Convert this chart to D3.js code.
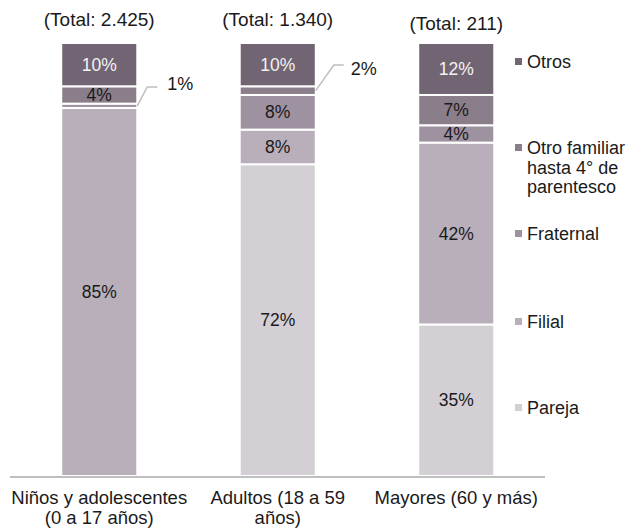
<!DOCTYPE html>
<html>
<head>
<meta charset="utf-8">
<script src="https://cdn.jsdelivr.net/npm/d3@7"></script>
<style>
  body { margin: 0; background: #fff; }
  svg text { font-family: "Liberation Sans", Arial, sans-serif; }
</style>
</head>
<body>
<div id="chart"></div>
<script>
const categories = ["Niños y adolescentes (0 a 17 años)", "Adultos (18 a 59 años)", "Mayores (60 y más)"];
const categoryLines = [["Niños y adolescentes", "(0 a 17 años)"], ["Adultos (18 a 59", "años)"], ["Mayores (60 y más)"]];
const totals = ["(Total: 2.425)", "(Total: 1.340)", "(Total: 211)"];
const seriesNames = ["Pareja", "Filial", "Fraternal", "Otro familiar hasta 4° de parentesco", "Otros"];
const legendLines = [["Pareja"], ["Filial"], ["Fraternal"], ["Otro familiar", "hasta 4° de", "parentesco"], ["Otros"]];
const pareja = [0, 72, 35];
const filial = [85, 8, 42];
const fraternal = [1, 8, 4];
const otroFamiliar = [4, 2, 7];
const otros = [10, 10, 12];
const colors = ["#d4cfd5", "#b8afbb", "#9e91a0", "#8b7e8b", "#726573"];

const width = 635, height = 529;
const svg = d3.select("#chart").append("svg")
    .attr("width", width)
    .attr("height", height);

const rows = categories.map((c, i) => ({
    cat: c,
    Pareja: pareja[i],
    Filial: filial[i],
    Fraternal: fraternal[i],
    "Otro familiar hasta 4° de parentesco": otroFamiliar[i],
    Otros: otros[i]
}));

const stacked = d3.stack().keys(seriesNames)(rows);

const x = d3.scaleBand()
    .domain(categories)
    .range([10, 545.5])
    .paddingInner(0.574)
    .paddingOuter(0.287);

const y = d3.scaleLinear().domain([0, 100]).range([476, 43]);

// bars
const layer = svg.append("g").selectAll("g")
    .data(stacked)
    .enter().append("g")
    .attr("fill", (d, i) => colors[i]);

layer.selectAll("rect")
    .data(d => d.filter(s => s[1] - s[0] > 0))
    .enter().append("rect")
    .attr("x", d => x(d.data.cat))
    .attr("y", d => y(d[1]))
    .attr("width", x.bandwidth())
    .attr("height", d => y(d[0]) - y(d[1]))
    .attr("stroke", "#fff")
    .attr("stroke-width", 2);

// axis line
svg.append("line")
    .attr("x1", 10).attr("x2", 545)
    .attr("y1", 477).attr("y2", 477)
    .attr("stroke", "#bfbfbf")
    .attr("stroke-width", 2);

// labels inside bars (small ones get a leader line)
stacked.forEach((s, si) => {
    s.forEach((d, ci) => {
        const v = d[1] - d[0];
        if (v <= 0) return;
        const cx = x(d.data.cat) + x.bandwidth() / 2;
        const cy = (y(d[0]) + y(d[1])) / 2;
        if (v < 3) {
            const x0 = x(d.data.cat) + x.bandwidth();
            const xa = x0 + (ci === 0 ? 10 : 18);
            const ya = ci === 0 ? 87 : 65;
            svg.append("polyline")
                .attr("points", [[x0, cy], [xa, ya], [xa + 10, ya]].map(p => p.join(",")).join(" "))
                .attr("fill", "none")
                .attr("stroke", "#bfbfbf")
                .attr("stroke-width", 1.5);
            svg.append("text")
                .attr("x", xa + (ci === 0 ? 20 : 17))
                .attr("y", ya + (ci === 0 ? 3 : 10))
                .attr("font-size", 18)
                .attr("fill", "#1a1a1a")
                .text(v + "%");
            return;
        }
        svg.append("text")
            .attr("x", cx)
            .attr("y", cy + 6)
            .attr("text-anchor", "middle")
            .attr("font-size", 17.5)
            .attr("fill", si === 4 ? "#f2f2f2" : "#1a1a1a")
            .text(v + "%");
    });
});

// totals
svg.append("g").selectAll("text")
    .data(categories)
    .enter().append("text")
    .attr("x", d => x(d) + x.bandwidth() / 2)
    .attr("y", (d, i) => i === 2 ? 30 : 26)
    .attr("text-anchor", "middle")
    .attr("font-size", 19)
    .attr("fill", "#1a1a1a")
    .text((d, i) => totals[i]);

// category labels
const catG = svg.append("g").selectAll("text")
    .data(categories)
    .enter().append("text")
    .attr("x", d => x(d) + x.bandwidth() / 2)
    .attr("y", 504)
    .attr("text-anchor", "middle")
    .attr("font-size", 18.5)
    .attr("fill", "#1a1a1a");
catG.each(function(d, i) {
    categoryLines[i].forEach((line, li) => {
        d3.select(this).append("tspan")
            .attr("x", x(d) + x.bandwidth() / 2)
            .attr("dy", li === 0 ? 0 : 20)
            .text(line);
    });
});

// legend (top to bottom: Otros ... Pareja)
const legendY = [408, 322, 234, 148, 62];
const legend = svg.append("g").selectAll("g")
    .data(seriesNames)
    .enter().append("g")
    .attr("transform", (d, i) => `translate(515,${legendY[i]})`);
legend.append("rect")
    .attr("x", 0).attr("y", -4)
    .attr("width", 7).attr("height", 7)
    .attr("fill", (d, i) => colors[i]);
legend.append("text")
    .attr("x", 12)
    .attr("y", 6)
    .attr("font-size", 18)
    .attr("fill", "#1a1a1a")
    .each(function(d, i) {
        legendLines[i].forEach((line, li) => {
            d3.select(this).append("tspan")
                .attr("x", 12)
                .attr("dy", li === 0 ? 0 : 19.5)
                .text(line);
        });
    });
</script>
</body>
</html>
